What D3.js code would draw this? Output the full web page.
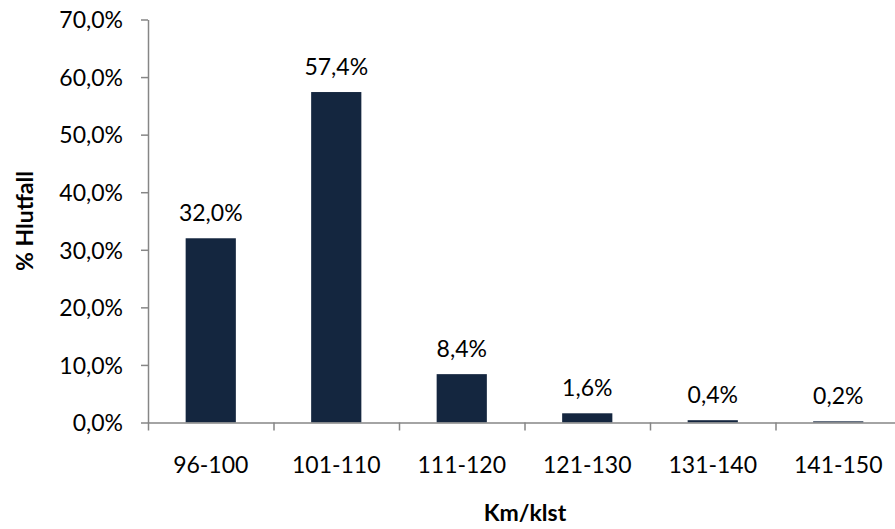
<!DOCTYPE html>
<html><head><meta charset="utf-8">
<script src="https://cdn.jsdelivr.net/npm/d3@7"></script>
<style>body{margin:0;background:#fff;} text{font-family:Lato, "Open Sans", sans-serif;}</style>
</head><body>
<svg id="c" width="895" height="529"></svg>
<script>
const categories = ["96-100","101-110","111-120","121-130","131-140","141-150"];
const values = [32.0, 57.4, 8.4, 1.6, 0.4, 0.2];
const yTicks = [0,10,20,30,40,50,60,70];
const fmt = v => v.toFixed(1).replace(".", ",") + "%";

(function(){
const svg = d3.select("#c");
const mL = 148, mR = 901, mT = 19.5, mB = 422.5;
const FS = 23;
const x = d3.scaleBand().domain(categories).range([mL, mR]).paddingInner(0.6).paddingOuter(0.3);
const y = d3.scaleLinear().domain([0,70]).range([mB, mT]);
const axisColor = "#868686";

svg.selectAll("rect.bar").data(values).join("rect")
  .attr("class","bar")
  .attr("x",(d,i)=>x(categories[i]))
  .attr("width",x.bandwidth())
  .attr("y",d=>y(d))
  .attr("height",d=>mB-y(d))
  .attr("fill","#14263f");

const ya = svg.append("g").attr("transform",`translate(${mL},0)`)
  .call(d3.axisLeft(y).tickValues(yTicks).tickFormat(fmt).tickSizeInner(7).tickSizeOuter(0).tickPadding(18));
ya.select(".domain").attr("stroke",axisColor).attr("stroke-width",1.5);
ya.selectAll(".tick line").attr("stroke",axisColor).attr("stroke-width",1.5);
ya.selectAll("text").attr("font-size",FS).attr("fill","#000").attr("font-family","Lato").attr("dy","0.36em");

const xb = d3.scaleLinear().domain([0,6]).range([mL,mR]);
const xa = svg.append("g").attr("transform",`translate(0,${mB})`)
  .call(d3.axisBottom(xb).tickValues([0,1,2,3,4,5,6]).tickFormat("").tickSizeInner(8).tickSizeOuter(0));
xa.select(".domain").attr("stroke",axisColor).attr("stroke-width",1.5);
xa.selectAll(".tick line").attr("stroke",axisColor).attr("stroke-width",1.5);

svg.selectAll("text.cat").data(categories).join("text")
  .attr("class","cat")
  .attr("x",d=>x(d)+x.bandwidth()/2)
  .attr("y",473)
  .attr("text-anchor","middle")
  .attr("font-size",FS)
  .text(d=>d);

svg.selectAll("text.lbl").data(values).join("text")
  .attr("class","lbl")
  .attr("x",(d,i)=>x(categories[i])+x.bandwidth()/2)
  .attr("y",d=>y(d)-17.5)
  .attr("text-anchor","middle")
  .attr("font-size",FS)
  .text(d=>fmt(d));

svg.append("text").attr("x",525).attr("y",521).attr("text-anchor","middle")
  .attr("font-size",FS).attr("font-weight","bold").text("Km/klst");
svg.append("text").attr("transform","translate(33,221) rotate(-90)").attr("text-anchor","middle")
  .attr("font-size",FS).attr("font-weight","bold").text("% Hlutfall");
})();
</script>
</body></html>
